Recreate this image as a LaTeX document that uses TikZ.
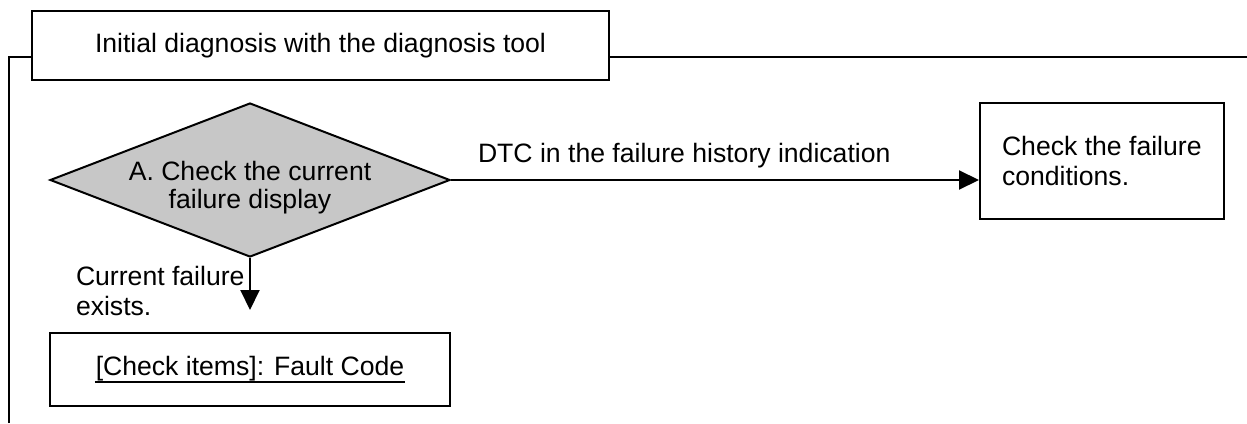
\documentclass[tikz,border=0pt]{standalone}
\usepackage{fontspec}
\setmainfont{Liberation Sans}
\usetikzlibrary{shapes.geometric,arrows.meta,calc}
\begin{document}
\begin{tikzpicture}[x=0.5pt,y=-0.5pt, line width=1pt,
  every node/.style={font=\fontsize{13.3}{15}\selectfont, inner sep=0pt},
  box/.style={draw, rectangle, line width=1pt},
  txt/.style={anchor=base west},
  ctxt/.style={anchor=base},
  arr/.style={-{Triangle[length=10pt,width=9.5pt]}}]
\useasboundingbox (0,0) rectangle (1247,423);
% title and frame
\node[box, minimum width=288.5pt, minimum height=34.5pt] (title) at (320.5,45.5) {Initial diagnosis with the diagnosis tool};
\coordinate (fb) at (9,423);
\coordinate (fr) at (1247,57);
\draw (fb) |- (title.west |- fr);
\draw (title.east |- fr) -- (fr);
% decision
\node[diamond, draw, fill=black!22, minimum width=200pt, minimum height=77pt] (dia) at (250,180) {};
\node[ctxt] (dta) at (250,180) {A. Check the current};
\node[ctxt] (dtb) at (250,208) {failure display};
% right box
\node[box, minimum width=122pt, minimum height=58pt] (fc) at (1102,161) {};
\node[txt] (fca) at (1001,155) {Check the failure};
\node[txt] (fcb) at (1001,185) {conditions.};
\draw[arr] (dia.east) -- (dia.east -| fc.west);
\node[txt] (lbl) at (477,162) {DTC in the failure history indication};
% bottom box
\node[box, minimum width=200pt, minimum height=36.5pt] (ck) at (250,369.5) {};
\node[ctxt] (ckt) at (250,375) {[Check items]: Fault Code};
\draw[line width=1pt] ([yshift=-3.5pt]ckt.base west) -- ([yshift=-3.5pt]ckt.base east);
\draw[arr, shorten >=11pt] (dia.south) -- (ck.north);
\node[txt] (cfa) at (75,285) {Current failure};
\node[txt] (cfb) at (75,315) {exists.};
\end{tikzpicture}
\end{document}
